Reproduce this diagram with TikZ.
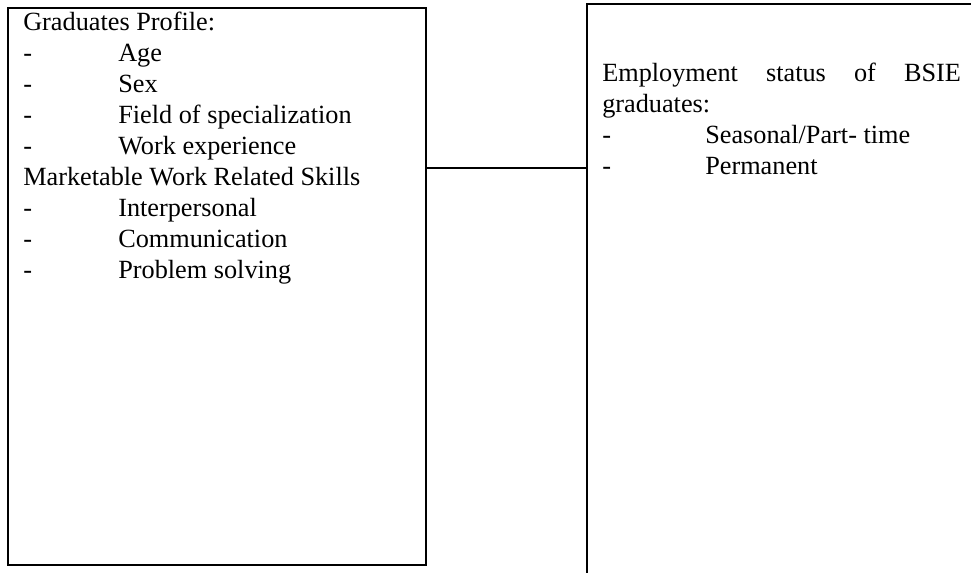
\documentclass[tikz,border=0pt]{standalone}
\usepackage{fontspec}
\setmainfont{Liberation Serif}
\begin{document}
\begin{tikzpicture}[x=0.75pt,y=-0.75pt,
  boxstyle/.style={draw=black,line width=1.5pt,rectangle,inner sep=0pt},
  connstyle/.style={draw=black,line width=1.1pt},
  txt/.style={anchor=base west,inner sep=0pt,font=\fontsize{19.7}{23}\selectfont}]
\useasboundingbox (0,0) rectangle (971,573);
\clip (0,0) rectangle (971,573);
% boxes
\node[boxstyle,minimum width=313.5pt,minimum height=417.75pt] (leftbox) at (217,286.5) {};
\node[boxstyle,minimum width=384.75pt,minimum height=522pt] (rightbox) at (843.5,352) {};
\coordinate (cy) at (0,168);
\draw[connstyle] (leftbox.east |- cy) -- (rightbox.west |- cy);
% left texts
\node[txt] (l1) at (23,31) {Graduates Profile:};
\node[txt] (d2) at (23,62) {-};  \node[txt] (l2) at (118,62) {Age};
\node[txt] (d3) at (23,93) {-};  \node[txt] (l3) at (118,93) {Sex};
\node[txt] (d4) at (23,124) {-}; \node[txt] (l4) at (118,124) {Field of specialization};
\node[txt] (d5) at (23,155) {-}; \node[txt] (l5) at (118,155) {Work experience};
\node[txt] (l6) at (23,186) {Marketable Work Related Skills};
\node[txt] (d7) at (23,217) {-}; \node[txt] (l7) at (118,217) {Interpersonal};
\node[txt] (d8) at (23,248) {-}; \node[txt] (l8) at (118,248) {Communication};
\node[txt] (d9) at (23,279) {-}; \node[txt] (l9) at (118,279) {Problem solving};
% right texts
\node[txt] (r1) at (602,82) {\hbox to 269pt{Employment\hfill status\hfill of\hfill BSIE}};
\node[txt] (r2) at (602,113) {graduates:};
\node[txt] (rd3) at (602,144) {-}; \node[txt] (r3) at (705,144) {Seasonal/Part- time};
\node[txt] (rd4) at (602,175) {-}; \node[txt] (r4) at (705,175) {Permanent};
\end{tikzpicture}
\end{document}
